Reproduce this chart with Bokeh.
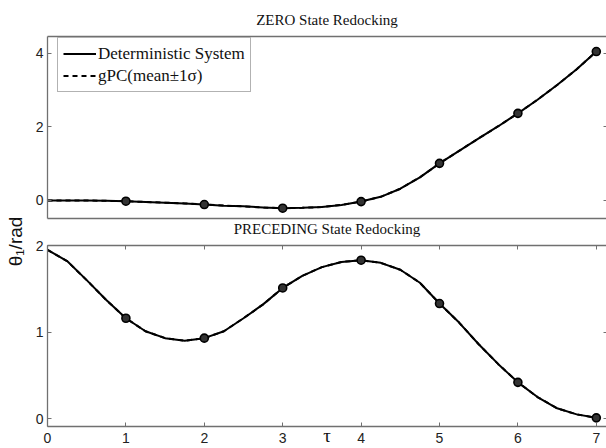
from bokeh.plotting import figure
from bokeh.models import (Range1d, LinearAxis, FixedTicker, Legend, LegendItem,
                          Label, Title, CustomJSTickFormatter)
from bokeh.layouts import row, column
from bokeh.embed import file_html
from bokeh.resources import INLINE

# ---------------- data ----------------
tau = [0, 0.25, 0.5, 0.75, 1, 1.25, 1.5, 1.75, 2, 2.25, 2.5, 2.75, 3, 3.25, 3.5,
       3.75, 4, 4.25, 4.5, 4.75, 5, 5.25, 5.5, 5.75, 6, 6.25, 6.5, 6.75, 7]

zero_det = [0.00, 0.00, 0.00, -0.01, -0.02, -0.04, -0.06, -0.08, -0.11, -0.14,
            -0.16, -0.19, -0.21, -0.20, -0.18, -0.12, -0.03, 0.10, 0.32, 0.63,
            1.01, 1.35, 1.69, 2.02, 2.37, 2.74, 3.14, 3.57, 4.05]
zero_gpc = [0.00, 0.00, 0.00, -0.01, -0.02, -0.04, -0.06, -0.08, -0.11, -0.14,
            -0.16, -0.19, -0.21, -0.20, -0.18, -0.12, -0.03, 0.10, 0.32, 0.63,
            1.01, 1.35, 1.69, 2.02, 2.37, 2.74, 3.14, 3.57, 4.05]

prec_det = [1.95, 1.82, 1.60, 1.37, 1.16, 1.01, 0.93, 0.90, 0.93, 1.01,
            1.16, 1.32, 1.51, 1.65, 1.75, 1.81, 1.83, 1.80, 1.72, 1.57,
            1.33, 1.11, 0.86, 0.63, 0.42, 0.25, 0.12, 0.05, 0.01]
prec_gpc = [1.95, 1.82, 1.60, 1.37, 1.16, 1.01, 0.93, 0.90, 0.93, 1.01,
            1.16, 1.32, 1.51, 1.65, 1.75, 1.81, 1.83, 1.80, 1.72, 1.57,
            1.33, 1.11, 0.86, 0.63, 0.42, 0.25, 0.12, 0.05, 0.01]

tau_pts = [1, 2, 3, 4, 5, 6, 7]
zero_pts = [-0.02, -0.11, -0.21, -0.03, 1.01, 2.37, 4.05]
prec_pts = [1.16, 0.93, 1.51, 1.83, 1.33, 0.42, 0.01]

x_ticks = [0, 1, 2, 3, 4, 5, 6, 7]
zero_ticks = [0, 2, 4]
prec_ticks = [0, 1, 2]

titles = ["ZERO State Redocking", "PRECEDING State Redocking"]
legend_labels = ["Deterministic System", "gPC(mean\u00b11\u03c3)"]
x_label = "\u03c4"
y_label = "\u03b8\u2081/rad"

# ---------------- styles ----------------
AX = "#707070"
SANS = "Liberation Sans"
SERIF = "Liberation Serif"


def axis(ticks, tick_in=0, labels=True, line=True, size="14px"):
    a = LinearAxis(ticker=FixedTicker(ticks=ticks, minor_ticks=[]))
    a.axis_line_color = AX if line else None
    a.axis_line_width = 1.3
    a.major_tick_in = tick_in
    a.major_tick_out = 0
    a.major_tick_line_color = AX if tick_in else None
    a.minor_tick_line_color = None
    if labels:
        a.major_label_text_font = SANS
        a.major_label_text_font_size = size
        a.major_label_text_color = "#222222"
        a.major_label_standoff = 4
    else:
        a.formatter = CustomJSTickFormatter(code="return ''")
        a.major_label_standoff = 0
        a.major_label_text_font_size = "1px"
    return a


def style_title(t, standoff):
    t.align = "center"
    t.text_font = SERIF
    t.text_font_size = "15px"
    t.text_font_style = "normal"
    t.text_color = "#111111"
    t.standoff = standoff


def panel(height, btop, bbot, yr):
    p = figure(width=578, height=height, x_range=Range1d(0, 7.13),
               y_range=Range1d(*yr), output_backend="svg",
               toolbar_location=None, x_axis_location=None,
               y_axis_location=None, min_border_left=19, min_border_right=0,
               min_border_top=btop, min_border_bottom=bbot)
    p.outline_line_color = None
    for g in p.grid:
        g.visible = False
    return p


# ---------------- top panel ----------------
top = panel(237, 36, 19, (-0.49, 4.46))
top.title.text = titles[0]
style_title(top.title, 17)
top.add_layout(axis(zero_ticks, tick_in=4), "left")
top.add_layout(axis(zero_ticks, tick_in=3, labels=False, line=False), "right")
top.add_layout(axis([], labels=False), "above")
top.add_layout(axis([], labels=False), "below")
t2 = Title(text=titles[1])
style_title(t2, 0)
top.add_layout(t2, "below")

r_det = top.line(tau, zero_det, line_color="black", line_width=2)
r_gpc = top.line(tau, zero_gpc, line_color="black", line_width=2,
                 line_dash="5 4")
top.scatter(tau_pts, zero_pts, marker="circle", size=8, line_color="black",
            line_width=1.6, fill_color="#333333")

legend = Legend(items=[LegendItem(label=legend_labels[0], renderers=[r_det]),
                       LegendItem(label=legend_labels[1], renderers=[r_gpc])],
                location=(10, 126))
legend.label_text_font = SERIF
legend.label_text_font_size = "17px"
legend.label_text_color = "#111111"
legend.padding = 5
legend.spacing = 1
legend.margin = 0
legend.glyph_width = 33
legend.glyph_height = 21
legend.label_height = 21
legend.label_standoff = 2
legend.border_line_color = "#666666"
legend.border_line_width = 1
legend.background_fill_color = "white"
legend.background_fill_alpha = 1
top.add_layout(legend)

# ---------------- bottom panel ----------------
bot = panel(211, 8, 22, (-0.09, 2.0))
bot.add_layout(axis(prec_ticks, tick_in=4), "left")
bot.add_layout(axis(prec_ticks, tick_in=3, labels=False, line=False), "right")
bot.add_layout(axis(x_ticks, tick_in=4, labels=False), "above")
xb = axis(x_ticks, tick_in=4)
xb.major_label_standoff = 6
xb.axis_label = x_label
xb.axis_label_text_font = SERIF
xb.axis_label_text_font_size = "19px"
xb.axis_label_text_font_style = "normal"
xb.axis_label_text_color = "#111111"
xb.axis_label_standoff = -21
bot.add_layout(xb, "below")

bot.line(tau, prec_det, line_color="black", line_width=2)
bot.line(tau, prec_gpc, line_color="black", line_width=2, line_dash="5 4")
bot.scatter(tau_pts, prec_pts, marker="circle", size=8, line_color="black",
            line_width=1.6, fill_color="#333333")

# ---------------- y label strip ----------------
lab = figure(width=28, height=448, x_range=Range1d(0, 28), y_range=Range1d(0, 448),
             output_backend="svg", toolbar_location=None,
             x_axis_location=None, y_axis_location=None,
             min_border_left=0, min_border_right=0, min_border_top=0,
             min_border_bottom=0)
lab.outline_line_color = None
for g in lab.grid:
    g.visible = False
lab.add_layout(Label(x=15, y=207, text=y_label, angle=90, angle_units="deg",
                     text_font=SANS, text_font_size="19px",
                     text_align="center", text_baseline="middle",
                     text_color="#111111"))

layout = row(lab, column(top, bot))
open("out.html", "w").write(file_html(layout, INLINE))
